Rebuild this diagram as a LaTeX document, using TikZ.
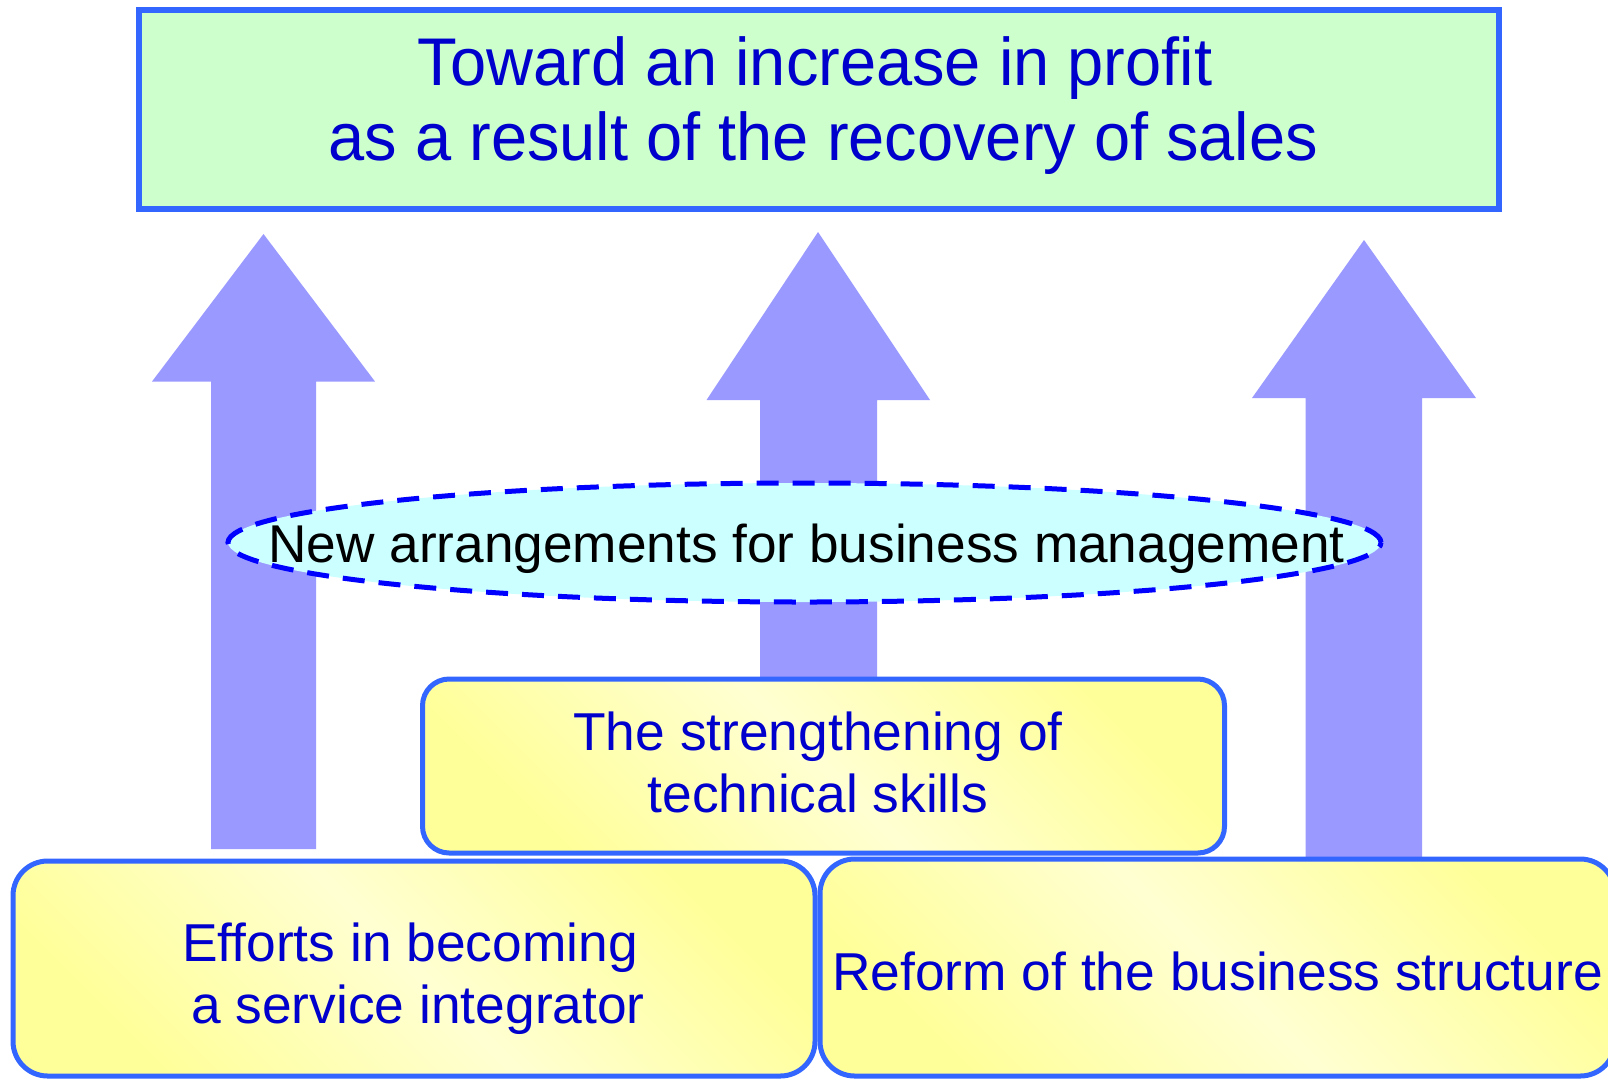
\documentclass[tikz,border=0pt]{standalone}
\usepackage{fontspec}
\setmainfont{Liberation Sans}
\newfontfamily\topfont[FakeStretch=0.963]{Liberation Sans}
\usetikzlibrary{shapes.geometric}
\definecolor{boxblue}{HTML}{3366FF}
\definecolor{textblue}{HTML}{0000CC}
\definecolor{arrowc}{HTML}{9999FF}
\definecolor{greenfill}{HTML}{CCFFCC}
\definecolor{cyanfill}{HTML}{CCFFFF}
\definecolor{dashblue}{HTML}{0000FF}
\definecolor{yelA}{HTML}{FFFF99}
\definecolor{yelB}{HTML}{FFFFD2}
\begin{document}
\begin{tikzpicture}[x=0.75pt,y=-0.75pt,
  topbox/.style={draw=boxblue, line width=4.5pt, fill=greenfill, inner sep=0pt},
  ybox/.style={draw=boxblue, line width=3.75pt, rounded corners=#1, inner sep=0pt,
    top color=yelA, bottom color=yelA, middle color=yelB, shading angle=-45},
  oval/.style={ellipse, draw=dashblue, line width=3.75pt, dash pattern=on 16.5pt off 10.5pt,
    fill=cyanfill, inner sep=0pt},
  btext/.style={text=textblue, align=center, font=\fontsize{40}{46.5}\selectfont},
  uparrow/.style={fill=arrowc}
]
\useasboundingbox (0,0) rectangle (1608,1079);
\clip (0,0) rectangle (1608,1079);
% block arrows
\fill[uparrow] (211,849) -- (211,381.5) -- (152,381.5) -- (263.5,234) -- (375,381.5) -- (316,381.5) -- (316,849) -- cycle;
\fill[uparrow] (760,720) -- (760,400) -- (706.5,400) -- (818,232) -- (930,400) -- (877,400) -- (877,720) -- cycle;
\fill[uparrow] (1305.5,857) -- (1305.5,398) -- (1252,398) -- (1364,240) -- (1476,398) -- (1422,398) -- (1422,857) -- cycle;
% top box
\node[topbox, minimum width=1020pt, minimum height=149.25pt] (goal) at (819,109.5) {};
\node[text=textblue, align=center, font=\topfont\fontsize{50.6}{56.25}\selectfont] (goaltext) at (815,106)
  {Toward an increase in profit\\\hspace*{0.25em}as a result of the recovery of sales};
% ellipse
\node[oval, minimum width=864.75pt, minimum height=89.25pt] (mgmt) at (804.5,542.5) {};
\node[font=\fontsize{39.9}{42}\selectfont, text=black] (mgmttext) at (806.5,549) {New arrangements for business management};
% middle box
\node[ybox=20pt, minimum width=601.5pt, minimum height=130.5pt] (tech) at (823.5,766) {};
\node[btext] (techtext) at (818,762) {The strengthening of\\technical skills};
% bottom boxes
\node[ybox=26pt, minimum width=601.5pt, minimum height=161.25pt] (serv) at (414,968.5) {};
\node[btext] (servtext) at (410,978.5) {Efforts in becoming\\\hspace*{0.3em}a service integrator};
\node[ybox=26pt, minimum width=596.25pt, minimum height=162.75pt] (reform) at (1217.5,967.5) {};
\node[btext] (reformtext) at (1217.5,971) {Reform of the business structure};
\end{tikzpicture}
\end{document}
